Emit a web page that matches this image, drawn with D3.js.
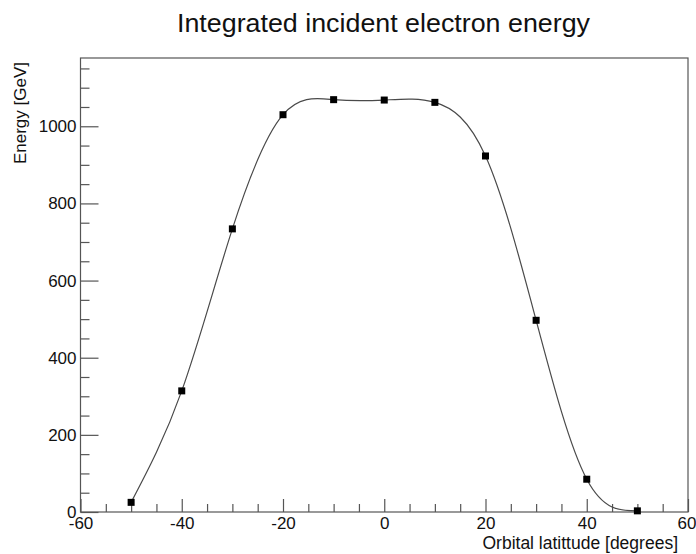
<!DOCTYPE html>
<html>
<head>
<meta charset="utf-8">
<script src="https://cdn.jsdelivr.net/npm/d3@7"></script>
<style>
  html, body { margin: 0; padding: 0; background: #fff; }
  svg { display: block; font-family: "Liberation Sans", Arial, Helvetica, sans-serif; }
</style>
</head>
<body>
<svg id="chart" width="696" height="554"></svg>
<script>
// Orbital latitude (degrees) and integrated incident electron energy (GeV)
const latitude = [-50, -40, -30, -20, -10, 0, 10, 20, 30, 40, 50];
const energy   = [25, 314, 734, 1030, 1069, 1068, 1062, 923, 497, 85, 3];

const xMajorTicks = [-60, -40, -20, 0, 20, 40, 60];
const yMajorTicks = [0, 200, 400, 600, 800, 1000];

const frame = { left: 80.5, right: 688, top: 58, bottom: 512 };

const svg = d3.select("#chart");

const x = d3.scaleLinear().domain([-60, 60]).range([frame.left, frame.right]);
const y = d3.scaleLinear().domain([0, 1177]).range([frame.bottom, frame.top]);

const axisColor = "#555";
const textColor = "#111";

// Clip region for the curve
svg.append("defs").append("clipPath").attr("id", "plotClip")
  .append("rect")
  .attr("x", frame.left).attr("y", frame.top)
  .attr("width", frame.right - frame.left).attr("height", frame.bottom - frame.top);

// Frame
svg.append("rect")
  .attr("x", frame.left).attr("y", frame.top)
  .attr("width", frame.right - frame.left).attr("height", frame.bottom - frame.top)
  .attr("fill", "none").attr("stroke", axisColor).attr("stroke-width", 1.2);

// X axis: ticks drawn inward, major every 20, minor every 5
const xMinor = d3.range(-60, 61, 5).filter(v => !xMajorTicks.includes(v));
const xAxisMajor = d3.axisBottom(x).tickValues(xMajorTicks).tickSizeInner(-13).tickSizeOuter(0)
  .tickPadding(5).tickFormat(d3.format("d"));
const gx = svg.append("g").attr("transform", `translate(0,${frame.bottom})`).call(xAxisMajor);
gx.select(".domain").remove();
gx.selectAll(".tick line").attr("stroke", axisColor).attr("stroke-width", 1.2);
gx.selectAll(".tick text")
  .attr("font-size", 17).attr("fill", textColor)
  .text(d => d < 0 ? "-" + Math.abs(d) : d)
  .filter(d => d === 60)
  .attr("text-anchor", "end").attr("x", 8);

const xAxisMinor = d3.axisBottom(x).tickValues(xMinor).tickSizeInner(-8).tickSizeOuter(0).tickFormat("");
const gxm = svg.append("g").attr("transform", `translate(0,${frame.bottom})`).call(xAxisMinor);
gxm.select(".domain").remove();
gxm.selectAll(".tick line").attr("stroke", axisColor).attr("stroke-width", 1.2);

// Y axis: ticks drawn inward, major every 200, minor every 50
const yMinor = d3.range(0, 1177, 50).filter(v => !yMajorTicks.includes(v));
const yAxisMajor = d3.axisLeft(y).tickValues(yMajorTicks).tickSizeInner(-18).tickSizeOuter(0)
  .tickPadding(4).tickFormat(d3.format("d"));
const gy = svg.append("g").attr("transform", `translate(${frame.left},0)`).call(yAxisMajor);
gy.select(".domain").remove();
gy.selectAll(".tick line").attr("stroke", axisColor).attr("stroke-width", 1.2);
gy.selectAll(".tick text").attr("font-size", 17).attr("fill", textColor);

const yAxisMinor = d3.axisLeft(y).tickValues(yMinor).tickSizeInner(-9).tickSizeOuter(0).tickFormat("");
const gym = svg.append("g").attr("transform", `translate(${frame.left},0)`).call(yAxisMinor);
gym.select(".domain").remove();
gym.selectAll(".tick line").attr("stroke", axisColor).attr("stroke-width", 1.2);

// Smooth curve through the measurements
const pts = latitude.map((v, i) => [v, energy[i]]);
const line = d3.line().x(d => x(d[0])).y(d => y(d[1])).curve(d3.curveNatural);
svg.append("path")
  .datum(pts)
  .attr("clip-path", "url(#plotClip)")
  .attr("d", line)
  .attr("fill", "none").attr("stroke", "#4a4a4a").attr("stroke-width", 1.2);

// Square markers
const ms = 7;
svg.append("g").selectAll("rect")
  .data(pts)
  .join("rect")
  .attr("x", d => x(d[0]) - ms / 2)
  .attr("y", d => y(d[1]) - ms / 2)
  .attr("width", ms).attr("height", ms)
  .attr("fill", "#000");

// Title
svg.append("text")
  .attr("x", 177).attr("y", 32)
  .attr("font-size", 25.5).attr("fill", textColor)
  .attr("textLength", 413).attr("lengthAdjust", "spacingAndGlyphs")
  .text("Integrated incident electron energy");

// Axis titles
svg.append("text")
  .attr("x", 678).attr("y", 549)
  .attr("text-anchor", "end")
  .attr("font-size", 17.5).attr("fill", textColor)
  .text("Orbital latittude [degrees]");

svg.append("text")
  .attr("transform", `translate(26,62) rotate(-90)`)
  .attr("text-anchor", "end")
  .attr("font-size", 17).attr("fill", textColor)
  .text("Energy [GeV]");
</script>
</body>
</html>
